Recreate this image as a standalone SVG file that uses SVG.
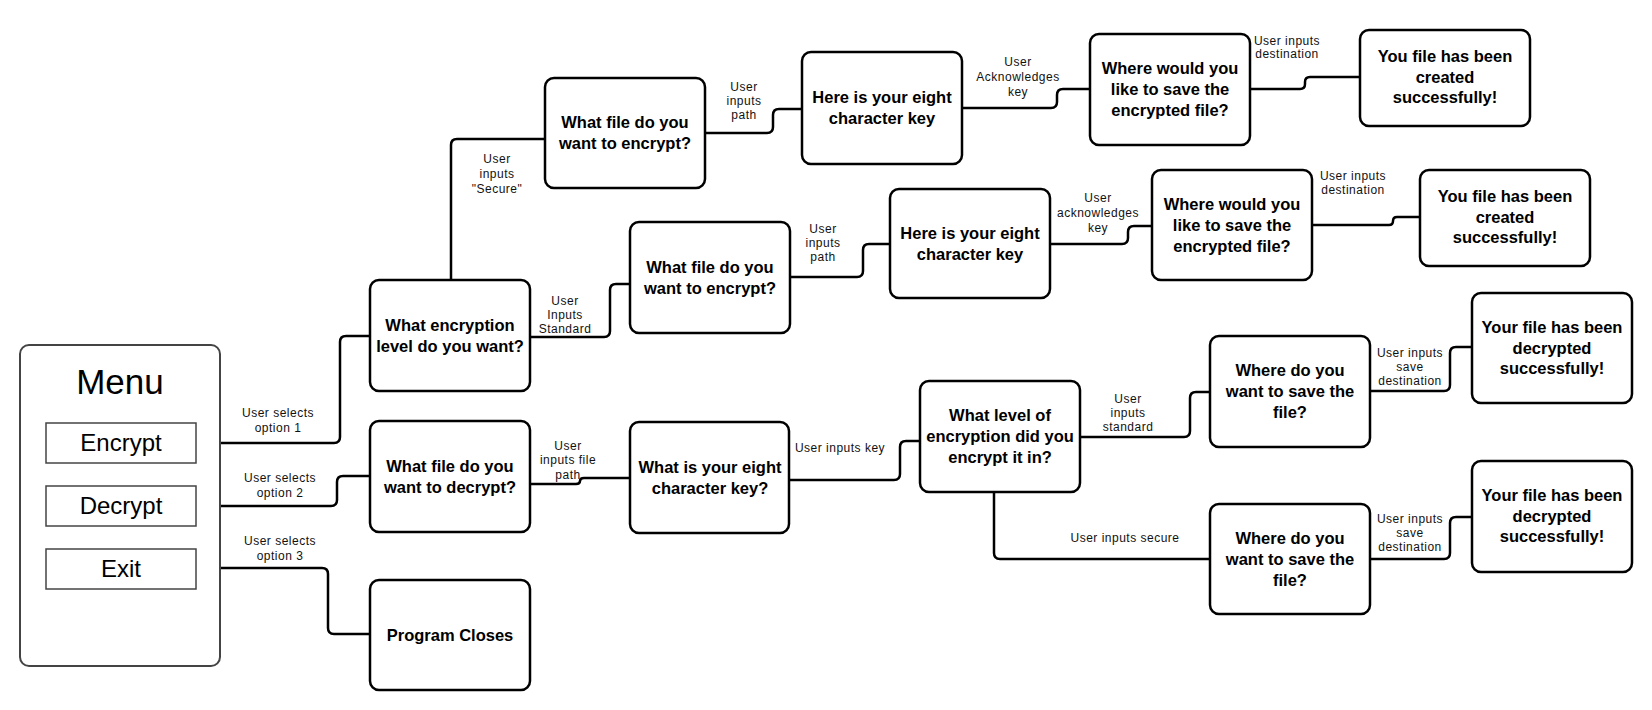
<svg xmlns="http://www.w3.org/2000/svg" width="1652" height="710" viewBox="0 0 1652 710">
<style>
.node{fill:#fff;stroke:#000;stroke-width:2.5}
.t{font-family:"Liberation Sans",Arial,sans-serif;font-size:16.5px;font-weight:bold;text-anchor:middle;fill:#000}
.lbl{font-family:"Liberation Sans",Arial,sans-serif;font-size:12px;letter-spacing:0.5px;text-anchor:middle;fill:#111}
.conn path{fill:none;stroke:#000;stroke-width:2.5}
.opt{fill:#fff;stroke:#444;stroke-width:1.5}
.optt{font-family:"Liberation Sans",Arial,sans-serif;font-size:24px;text-anchor:middle;fill:#000}
</style>
<rect width="1652" height="710" fill="#fff"/>
<g id="connectors" class="conn">
<path d="M196,443 H334 Q340,443 340,437 V342 Q340,336 346,336 H370"/>
<path d="M196,506 H331 Q337,506 337,500 V482 Q337,476 343,476 H370"/>
<path d="M196,568 H322 Q328,568 328,574 V628 Q328,634 334,634 H370"/>
<path d="M451,280 V145 Q451,139 457,139 H545"/>
<path d="M530,337 H604 Q610,337 610,331 V290 Q610,284 616,284 H630"/>
<path d="M705,133 H767 Q773,133 773,127 V115 Q773,109 779,109 H802"/>
<path d="M790,277 H857 Q863,277 863,271 V250 Q863,244 869,244 H890"/>
<path d="M962,108 H1051 Q1057,108 1057,102 V95 Q1057,89 1063,89 H1090"/>
<path d="M1050,244 H1122 Q1128,244 1128,238 V232 Q1128,226 1134,226 H1152"/>
<path d="M1250,89 H1300 Q1305,89 1305,84 V82 Q1305,77 1310,77 H1360"/>
<path d="M1312,225 H1389 Q1393,225 1393,221 Q1393,217 1397,217 H1420"/>
<path d="M530,484 H576 Q580,484 580,481 Q580,478 584,478 H630"/>
<path d="M789,480 H894 Q900,480 900,474 V447 Q900,441 906,441 H920"/>
<path d="M1080,437 H1184 Q1190,437 1190,431 V398 Q1190,392 1196,392 H1210"/>
<path d="M994,492 V553 Q994,559 1000,559 H1210"/>
<path d="M1370,391 H1444 Q1450,391 1450,385 V353 Q1450,347 1456,347 H1472"/>
<path d="M1370,559 H1444 Q1450,559 1450,553 V523 Q1450,517 1456,517 H1472"/>
</g>
<g id="labels">
<text class="lbl"><tspan x="278" y="417">User selects</tspan><tspan x="278" y="432">option 1</tspan></text>
<text class="lbl"><tspan x="280" y="482">User selects</tspan><tspan x="280" y="497">option 2</tspan></text>
<text class="lbl"><tspan x="280" y="545">User selects</tspan><tspan x="280" y="560">option 3</tspan></text>
<text class="lbl"><tspan x="497" y="163">User</tspan><tspan x="497" y="178">inputs</tspan><tspan x="497" y="193">"Secure"</tspan></text>
<text class="lbl"><tspan x="565" y="305">User</tspan><tspan x="565" y="319">Inputs</tspan><tspan x="565" y="333">Standard</tspan></text>
<text class="lbl"><tspan x="744" y="91">User</tspan><tspan x="744" y="105">inputs</tspan><tspan x="744" y="119">path</tspan></text>
<text class="lbl"><tspan x="823" y="233">User</tspan><tspan x="823" y="247">inputs</tspan><tspan x="823" y="261">path</tspan></text>
<text class="lbl"><tspan x="1018" y="66">User</tspan><tspan x="1018" y="81">Acknowledges</tspan><tspan x="1018" y="96">key</tspan></text>
<text class="lbl"><tspan x="1098" y="202">User</tspan><tspan x="1098" y="217">acknowledges</tspan><tspan x="1098" y="232">key</tspan></text>
<text class="lbl"><tspan x="1287" y="45">User inputs</tspan><tspan x="1287" y="58">destination</tspan></text>
<text class="lbl"><tspan x="1353" y="180">User inputs</tspan><tspan x="1353" y="194">destination</tspan></text>
<text class="lbl"><tspan x="568" y="450">User</tspan><tspan x="568" y="464">inputs file</tspan><tspan x="568" y="479">path</tspan></text>
<text class="lbl" x="840" y="452">User inputs key</text>
<text class="lbl"><tspan x="1128" y="403">User</tspan><tspan x="1128" y="417">inputs</tspan><tspan x="1128" y="431">standard</tspan></text>
<text class="lbl" x="1125" y="542">User inputs secure</text>
<text class="lbl"><tspan x="1410" y="357">User inputs</tspan><tspan x="1410" y="371">save</tspan><tspan x="1410" y="385">destination</tspan></text>
<text class="lbl"><tspan x="1410" y="523">User inputs</tspan><tspan x="1410" y="537">save</tspan><tspan x="1410" y="551">destination</tspan></text>
</g>
<g id="menu">
<rect x="20" y="345" width="200" height="321" rx="9" fill="#fff" stroke="#444" stroke-width="2"/>
<text x="120" y="394" font-family="Liberation Sans,Arial,sans-serif" font-size="35" text-anchor="middle">Menu</text>
</g>
<g id="opt_encrypt"><rect class="opt" x="46" y="423" width="150" height="40"/><text class="optt" x="121" y="451">Encrypt</text></g>
<g id="opt_decrypt"><rect class="opt" x="46" y="486" width="150" height="40"/><text class="optt" x="121" y="514">Decrypt</text></g>
<g id="opt_exit"><rect class="opt" x="46" y="549" width="150" height="40"/><text class="optt" x="121" y="577">Exit</text></g>
<g id="enc_level"><rect class="node" x="370" y="280" width="160" height="111" rx="9"/><text class="t"><tspan x="450" y="331">What encryption</tspan><tspan x="450" y="352">level do you want?</tspan></text></g>
<g id="dec_file"><rect class="node" x="370" y="421" width="160" height="111" rx="9"/><text class="t"><tspan x="450" y="472">What file do you</tspan><tspan x="450" y="493">want to decrypt?</tspan></text></g>
<g id="closes"><rect class="node" x="370" y="580" width="160" height="110" rx="9"/><text class="t" x="450" y="641">Program Closes</text></g>
<g id="enc_file1"><rect class="node" x="545" y="78" width="160" height="110" rx="9"/><text class="t"><tspan x="625" y="128">What file do you</tspan><tspan x="625" y="149">want to encrypt?</tspan></text></g>
<g id="enc_file2"><rect class="node" x="630" y="222" width="160" height="111" rx="9"/><text class="t"><tspan x="710" y="273">What file do you</tspan><tspan x="710" y="294">want to encrypt?</tspan></text></g>
<g id="key1"><rect class="node" x="802" y="52" width="160" height="112" rx="9"/><text class="t"><tspan x="882" y="103">Here is your eight</tspan><tspan x="882" y="124">character key</tspan></text></g>
<g id="key2"><rect class="node" x="890" y="189" width="160" height="109" rx="9"/><text class="t"><tspan x="970" y="239">Here is your eight</tspan><tspan x="970" y="260">character key</tspan></text></g>
<g id="save1"><rect class="node" x="1090" y="34" width="160" height="111" rx="9"/><text class="t"><tspan x="1170" y="74">Where would you</tspan><tspan x="1170" y="95">like to save the</tspan><tspan x="1170" y="116">encrypted file?</tspan></text></g>
<g id="save2"><rect class="node" x="1152" y="170" width="160" height="110" rx="9"/><text class="t"><tspan x="1232" y="210">Where would you</tspan><tspan x="1232" y="231">like to save the</tspan><tspan x="1232" y="252">encrypted file?</tspan></text></g>
<g id="done1"><rect class="node" x="1360" y="30" width="170" height="96" rx="9"/><text class="t"><tspan x="1445" y="62">You file has been</tspan><tspan x="1445" y="83">created</tspan><tspan x="1445" y="103">successfully!</tspan></text></g>
<g id="done2"><rect class="node" x="1420" y="170" width="170" height="96" rx="9"/><text class="t"><tspan x="1505" y="202">You file has been</tspan><tspan x="1505" y="223">created</tspan><tspan x="1505" y="243">successfully!</tspan></text></g>
<g id="dec_key"><rect class="node" x="630" y="422" width="159" height="111" rx="9"/><text class="t"><tspan x="710" y="473">What is your eight</tspan><tspan x="710" y="494">character key?</tspan></text></g>
<g id="dec_level"><rect class="node" x="920" y="381" width="160" height="111" rx="9"/><text class="t"><tspan x="1000" y="421">What level of</tspan><tspan x="1000" y="442">encryption did you</tspan><tspan x="1000" y="463">encrypt it in?</tspan></text></g>
<g id="dec_save1"><rect class="node" x="1210" y="336" width="160" height="111" rx="9"/><text class="t"><tspan x="1290" y="376">Where do you</tspan><tspan x="1290" y="397">want to save the</tspan><tspan x="1290" y="418">file?</tspan></text></g>
<g id="dec_save2"><rect class="node" x="1210" y="504" width="160" height="110" rx="9"/><text class="t"><tspan x="1290" y="544">Where do you</tspan><tspan x="1290" y="565">want to save the</tspan><tspan x="1290" y="586">file?</tspan></text></g>
<g id="dec_done1"><rect class="node" x="1472" y="293" width="160" height="110" rx="9"/><text class="t"><tspan x="1552" y="333">Your file has been</tspan><tspan x="1552" y="354">decrypted</tspan><tspan x="1552" y="374">successfully!</tspan></text></g>
<g id="dec_done2"><rect class="node" x="1472" y="461" width="160" height="111" rx="9"/><text class="t"><tspan x="1552" y="501">Your file has been</tspan><tspan x="1552" y="522">decrypted</tspan><tspan x="1552" y="542">successfully!</tspan></text></g>
</svg>
